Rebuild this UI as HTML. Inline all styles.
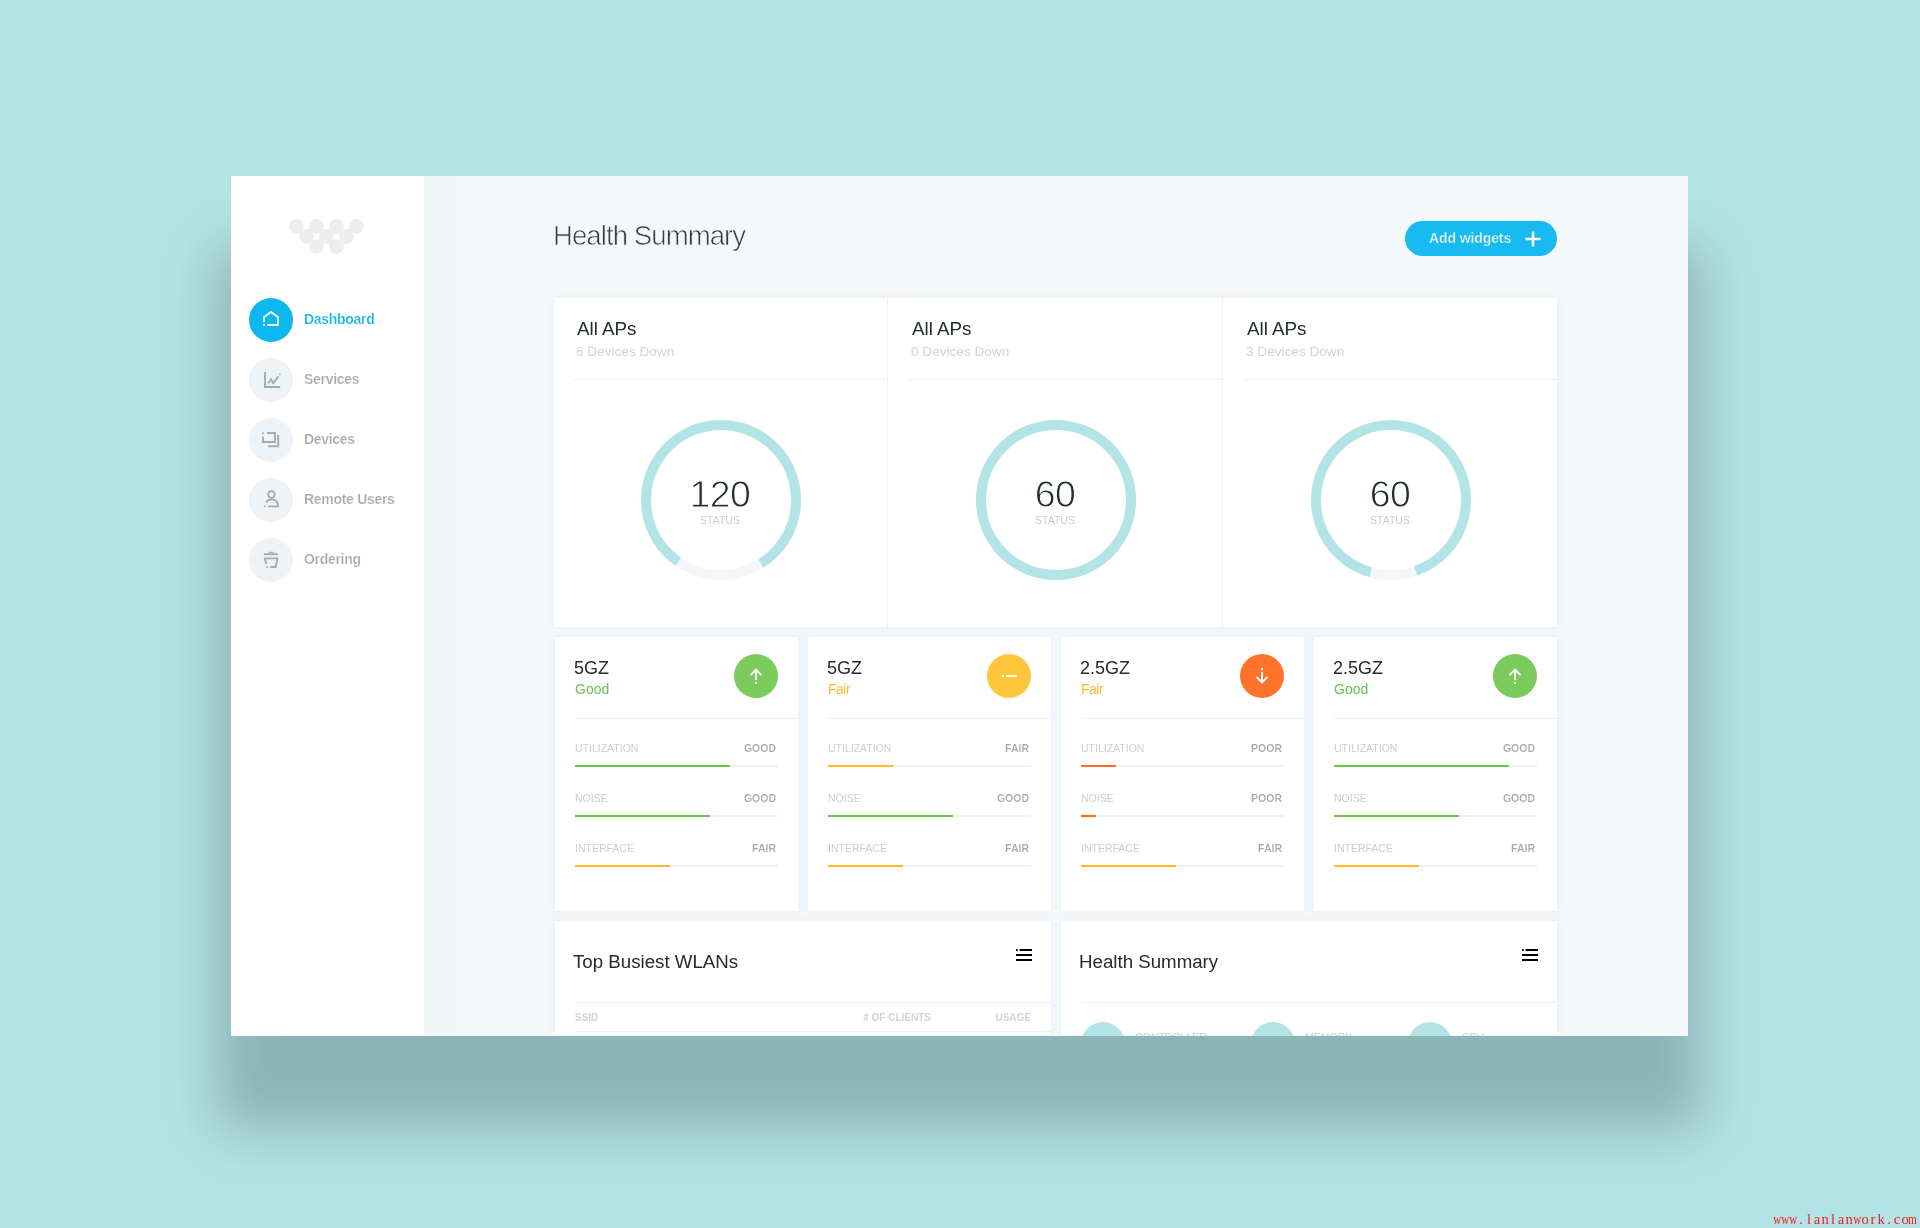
<!DOCTYPE html>
<html><head><meta charset="utf-8">
<style>
*{margin:0;padding:0;box-sizing:border-box}
html,body{width:1920px;height:1228px;overflow:hidden}
body{background:#b2e3e7;font-family:"Liberation Sans",sans-serif;position:relative}
.abs{position:absolute}
.navt,.t18,.sub,.num,.st,.lab,.val,div.abs{will-change:transform}
#shadow{position:absolute;left:217px;top:-751px;width:1485px;height:880px;box-shadow:0 1000px 50px 0 rgba(0,0,0,.21)}
#win{position:absolute;left:231px;top:176px;width:1457px;height:860px;background:#f4f8fb;overflow:hidden}
#side{position:absolute;left:0;top:0;width:193px;height:860px;background:#fff}
#sidegrad{position:absolute;left:193px;top:0;width:46px;height:860px;background:linear-gradient(90deg,#f0f5f8,#f4f8fb)}
.nav{position:absolute;left:18px;width:44px;height:44px;border-radius:50%;background:#edf3f6}
.nav.on{background:#0db8f1}
.navt{-webkit-text-stroke:0.2px #fff;position:absolute;left:73px;font-size:14px;font-weight:bold;color:#a9a9a9;letter-spacing:-0.3px;line-height:16px;white-space:nowrap}
.navt.on{color:#0fb4ec}
.card{position:absolute;background:#fff;box-shadow:0 0 7px rgba(140,180,200,.13)}
.t18{position:absolute;font-size:18px;color:#222b2e;line-height:20px;white-space:nowrap}
.sub{position:absolute;font-size:13.6px;color:#cdd4d7;line-height:16px;white-space:nowrap}
.hl{position:absolute;height:1px;background:#ebf0f3}
.vl{position:absolute;width:1px;background:#ebf0f3}
.num{position:absolute;-webkit-text-stroke:0.9px #fff;font-size:37.5px;color:#222b2e;line-height:36px;text-align:center;width:120px;white-space:nowrap}
.st{position:absolute;font-size:11px;color:#c5cdd1;line-height:12px;text-align:center;width:120px}
.lab{position:absolute;font-size:10.5px;color:#c7cfd3;line-height:12px;white-space:nowrap}
.val{-webkit-text-stroke:0.15px #fff;position:absolute;font-size:10.5px;color:#a4a8aa;line-height:12px;white-space:nowrap;font-weight:bold;text-align:right}
.bar{position:absolute;height:2px;background:#eef2f5;width:203px}
.bar i{position:absolute;left:0;top:0;height:2px;display:block}
.g{background:#6cc24a}.y{background:#fdb92e}.o{background:#f96d28}
.ic{position:absolute;width:44px;height:44px;border-radius:50%}
</style></head><body>
<div id="shadow"></div>
<div id="win">
 <div id="side"></div><div id="sidegrad"></div>
<svg class="abs" style="left:50px;top:34px" width="90" height="50" viewBox="0 0 90 50"><g fill="#ededed"><circle cx="15.4" cy="16.3" r="7.4"/><circle cx="35.4" cy="16.3" r="7.4"/><circle cx="55.5" cy="16.3" r="7.4"/><circle cx="75.5" cy="16.3" r="7.4"/><circle cx="25.4" cy="26.4" r="7.4"/><circle cx="45.4" cy="26.4" r="7.4"/><circle cx="65.5" cy="26.4" r="7.4"/><circle cx="35.4" cy="36.6" r="7.4"/><circle cx="55.5" cy="36.6" r="7.4"/></g></svg>
 <div class="nav on" style="top:122px"><svg width="44" height="44" viewBox="-22 -22 44 44"><path d="M-6.9 2.3V-3.1L0 -8.1L6.9 -3.1V5H-3.8" fill="none" stroke="#fff" stroke-width="1.8"/><rect x="-7.8" y="4.1" width="1.8" height="1.8" fill="#fff"/></svg></div>
 <div class="navt on" style="top:135px">Dashboard</div>
 <div class="nav" style="top:182px"><svg width="44" height="44" viewBox="-22 -22 44 44"><path d="M-6 -8V7H9.2" fill="none" stroke="#8fb0b9" stroke-width="1.9"/><path d="M-2.8 3.2L0 -0.8L2.2 3.2L7.4 -3.6" fill="none" stroke="#8fb0b9" stroke-width="1.8"/><rect x="8.1" y="-6.4" width="1.5" height="1.5" fill="#8fb0b9"/></svg></div>
 <div class="navt" style="top:195px">Services</div>
 <div class="nav" style="top:242px"><svg width="44" height="44" viewBox="-22 -22 44 44"><path d="M-8 -3.4V2H4V-7H-4" fill="none" stroke="#a9a9a9" stroke-width="1.9"/><rect x="-8.8" y="-7.8" width="1.7" height="1.7" fill="#a9a9a9"/><path d="M-3 6.2H7.2V-5" fill="none" stroke="#a9a9a9" stroke-width="1.9"/></svg></div>
 <div class="navt" style="top:255px">Devices</div>
 <div class="nav" style="top:302px"><svg width="44" height="44" viewBox="-22 -22 44 44"><circle cx="0.4" cy="-5.5" r="3.3" fill="none" stroke="#a9a9a9" stroke-width="1.8"/><path d="M-4.6 2.6C-3.4 0 -1.6 -0.6 0.4 -0.6C4.6 -0.6 7 2 7 6.3H-3" fill="none" stroke="#a9a9a9" stroke-width="1.8"/><rect x="-7" y="5.5" width="1.6" height="1.6" fill="#a9a9a9"/></svg></div>
 <div class="navt" style="top:315px">Remote Users</div>
 <div class="nav" style="top:362px"><svg width="44" height="44" viewBox="-22 -22 44 44"><path d="M-7 -5.8H7" stroke="#a9a9a9" stroke-width="1.8"/><path d="M-2 -7.6H2.6" stroke="#adadad" stroke-width="1.2"/><path d="M-4.6 4L-6.2 -1.6H6.4L4.6 7H-0.6" fill="none" stroke="#a9a9a9" stroke-width="1.9"/><rect x="-4.8" y="6.2" width="1.7" height="1.7" fill="#a9a9a9"/></svg></div>
 <div class="navt" style="top:375px">Ordering</div>
 <div class="abs" style="left:322px;top:44px;font-size:27.6px;letter-spacing:-0.95px;color:#323d42;line-height:32px;white-space:nowrap;-webkit-text-stroke:0.65px #f5f8fb">Health Summary</div>
 <div class="abs" style="left:1174px;top:45px;width:152px;height:35px;border-radius:18px;background:#17bbf1"></div>
 <div class="abs" style="left:1198px;top:54px;font-size:14px;font-weight:bold;color:#fff;line-height:16px;white-space:nowrap;letter-spacing:-0.1px;-webkit-text-stroke:0.35px #17bbf1">Add widgets</div>
 <svg class="abs" style="left:1293.5px;top:54.5px" width="16" height="16" viewBox="0 0 16 16"><path d="M8 0.5V15.5M0.5 8H15.5" stroke="#fff" stroke-width="2.6"/></svg>
 <div class="card" style="left:323px;top:122px;width:1003px;height:329px"></div>
 <div class="t18" style="left:345px;top:142.6px;font-size:18.8px;margin-left:0.6px">All APs</div>
 <div class="sub" style="left:345px;top:167.6px">6 Devices Down</div>
 <div class="hl" style="left:343px;top:203px;width:313px"></div>
 <div class="vl" style="left:656px;top:122px;height:329px"></div>
 <svg class="abs" style="left:405px;top:239px" width="170" height="170" viewBox="-85 -85 170 170"><circle r="75" fill="none" stroke="#f4f6fa" stroke-width="10"/><circle r="75" fill="none" stroke="#b2e3e7" stroke-width="10" stroke-dasharray="383.27 87.96" transform="rotate(124.7)"/></svg>
 <div class="num" style="left:429px;top:300px;letter-spacing:-0.6px">120</div>
 <div class="st" style="left:429px;top:338px;font-size:10.5px">STATUS</div>
 <div class="t18" style="left:680px;top:142.6px;font-size:18.8px;margin-left:0.6px">All APs</div>
 <div class="sub" style="left:680px;top:167.6px">0 Devices Down</div>
 <div class="hl" style="left:678px;top:203px;width:313px"></div>
 <div class="vl" style="left:991px;top:122px;height:329px"></div>
 <svg class="abs" style="left:740px;top:239px" width="170" height="170" viewBox="-85 -85 170 170"><circle r="75" fill="none" stroke="#f4f6fa" stroke-width="10"/><circle r="75" fill="none" stroke="#b2e3e7" stroke-width="10"/></svg>
 <div class="num" style="left:764px;top:300px;letter-spacing:-0.6px">60</div>
 <div class="st" style="left:764px;top:338px;font-size:10.5px">STATUS</div>
 <div class="t18" style="left:1015px;top:142.6px;font-size:18.8px;margin-left:0.6px">All APs</div>
 <div class="sub" style="left:1015px;top:167.6px">3 Devices Down</div>
 <div class="hl" style="left:1013px;top:203px;width:313px"></div>
 <svg class="abs" style="left:1075px;top:239px" width="170" height="170" viewBox="-85 -85 170 170"><circle r="75" fill="none" stroke="#f4f6fa" stroke-width="10"/><circle r="75" fill="none" stroke="#b2e3e7" stroke-width="10" stroke-dasharray="424.90 46.34" transform="rotate(105.7)"/></svg>
 <div class="num" style="left:1099px;top:300px;letter-spacing:-0.6px">60</div>
 <div class="st" style="left:1099px;top:338px;font-size:10.5px">STATUS</div>
 <div class="card" style="left:324px;top:461px;width:243px;height:274px"></div>
 <div class="t18" style="left:343px;top:482px">5GZ</div>
 <div class="abs" style="left:344px;top:505px;font-size:14px;line-height:16px;color:#6cc24a;margin-left:-0.5px">Good</div>
 <div class="ic" style="left:503px;top:478px;background:#7bca5c"><svg width="44" height="44" viewBox="-22 -22 44 44"><path d="M0 -6.5V3.9M-5.5 -0.9L0 -6.4L5.5 -0.9" fill="none" stroke="#fff" stroke-width="2"/><rect x="-1" y="5.9" width="2" height="2" fill="#fff"/></svg></div>
 <div class="hl" style="left:344px;top:542px;width:223px"></div>
 <div class="lab" style="left:344px;top:566px">UTILIZATION</div>
 <div class="val" style="left:445px;top:566px;width:100px">GOOD</div>
 <div class="bar" style="left:344px;top:589px"><i class="g" style="width:155px"></i></div>
 <div class="lab" style="left:344px;top:616px">NOISE</div>
 <div class="val" style="left:445px;top:616px;width:100px">GOOD</div>
 <div class="bar" style="left:344px;top:639px"><i class="g" style="width:135px"></i></div>
 <div class="lab" style="left:344px;top:666px">INTERFACE</div>
 <div class="val" style="left:445px;top:666px;width:100px">FAIR</div>
 <div class="bar" style="left:344px;top:689px"><i class="y" style="width:95px"></i></div>
 <div class="card" style="left:577px;top:461px;width:243px;height:274px"></div>
 <div class="t18" style="left:596px;top:482px">5GZ</div>
 <div class="abs" style="left:597px;top:505px;font-size:14px;line-height:16px;color:#fdb92e;letter-spacing:-0.5px;margin-left:-0.5px">Fair</div>
 <div class="ic" style="left:756px;top:478px;background:#ffc53b"><svg width="44" height="44" viewBox="-22 -22 44 44"><path d="M-3 0H7.9" stroke="#fff" stroke-width="1.9"/><rect x="-7.1" y="-0.95" width="2" height="1.9" fill="#fff"/></svg></div>
 <div class="hl" style="left:597px;top:542px;width:223px"></div>
 <div class="lab" style="left:597px;top:566px">UTILIZATION</div>
 <div class="val" style="left:698px;top:566px;width:100px">FAIR</div>
 <div class="bar" style="left:597px;top:589px"><i class="y" style="width:65px"></i></div>
 <div class="lab" style="left:597px;top:616px">NOISE</div>
 <div class="val" style="left:698px;top:616px;width:100px">GOOD</div>
 <div class="bar" style="left:597px;top:639px"><i class="g" style="width:125px"></i></div>
 <div class="lab" style="left:597px;top:666px">INTERFACE</div>
 <div class="val" style="left:698px;top:666px;width:100px">FAIR</div>
 <div class="bar" style="left:597px;top:689px"><i class="y" style="width:75px"></i></div>
 <div class="card" style="left:830px;top:461px;width:243px;height:274px"></div>
 <div class="t18" style="left:849px;top:482px">2.5GZ</div>
 <div class="abs" style="left:850px;top:505px;font-size:14px;line-height:16px;color:#fdb92e;letter-spacing:-0.5px;margin-left:-0.5px">Fair</div>
 <div class="ic" style="left:1009px;top:478px;background:#ff742a"><svg width="44" height="44" viewBox="-22 -22 44 44"><path d="M0 6.5V-3.9M-5.5 0.9L0 6.4L5.5 0.9" fill="none" stroke="#fff" stroke-width="2"/><rect x="-1" y="-7.9" width="2" height="2" fill="#fff"/></svg></div>
 <div class="hl" style="left:850px;top:542px;width:223px"></div>
 <div class="lab" style="left:850px;top:566px">UTILIZATION</div>
 <div class="val" style="left:951px;top:566px;width:100px">POOR</div>
 <div class="bar" style="left:850px;top:589px"><i class="o" style="width:35px"></i></div>
 <div class="lab" style="left:850px;top:616px">NOISE</div>
 <div class="val" style="left:951px;top:616px;width:100px">POOR</div>
 <div class="bar" style="left:850px;top:639px"><i class="o" style="width:15px"></i></div>
 <div class="lab" style="left:850px;top:666px">INTERFACE</div>
 <div class="val" style="left:951px;top:666px;width:100px">FAIR</div>
 <div class="bar" style="left:850px;top:689px"><i class="y" style="width:95px"></i></div>
 <div class="card" style="left:1083px;top:461px;width:243px;height:274px"></div>
 <div class="t18" style="left:1102px;top:482px">2.5GZ</div>
 <div class="abs" style="left:1103px;top:505px;font-size:14px;line-height:16px;color:#6cc24a;margin-left:-0.5px">Good</div>
 <div class="ic" style="left:1262px;top:478px;background:#7bca5c"><svg width="44" height="44" viewBox="-22 -22 44 44"><path d="M0 -6.5V3.9M-5.5 -0.9L0 -6.4L5.5 -0.9" fill="none" stroke="#fff" stroke-width="2"/><rect x="-1" y="5.9" width="2" height="2" fill="#fff"/></svg></div>
 <div class="hl" style="left:1103px;top:542px;width:223px"></div>
 <div class="lab" style="left:1103px;top:566px">UTILIZATION</div>
 <div class="val" style="left:1204px;top:566px;width:100px">GOOD</div>
 <div class="bar" style="left:1103px;top:589px"><i class="g" style="width:175px"></i></div>
 <div class="lab" style="left:1103px;top:616px">NOISE</div>
 <div class="val" style="left:1204px;top:616px;width:100px">GOOD</div>
 <div class="bar" style="left:1103px;top:639px"><i class="g" style="width:125px"></i></div>
 <div class="lab" style="left:1103px;top:666px">INTERFACE</div>
 <div class="val" style="left:1204px;top:666px;width:100px">FAIR</div>
 <div class="bar" style="left:1103px;top:689px"><i class="y" style="width:85px"></i></div>
 <div class="card" style="left:324px;top:745px;width:496px;height:114px"></div>
 <div class="t18" style="left:342px;top:776px;font-size:18.7px">Top Busiest WLANs</div>
 <svg class="abs" style="left:785px;top:773px" width="16" height="12" viewBox="0 0 16 12"><path d="M3.6 1H16M0 6H16M0 11H16" stroke="#000" stroke-width="1.8"/><rect x="0" y="0.2" width="1.8" height="1.8" fill="#000"/></svg>
 <div class="hl" style="left:344px;top:826px;width:476px"></div>
 <div class="card" style="left:830px;top:745px;width:496px;height:114px"></div>
 <div class="t18" style="left:848px;top:776px;font-size:18.7px">Health Summary</div>
 <svg class="abs" style="left:1291px;top:773px" width="16" height="12" viewBox="0 0 16 12"><path d="M3.6 1H16M0 6H16M0 11H16" stroke="#000" stroke-width="1.8"/><rect x="0" y="0.2" width="1.8" height="1.8" fill="#000"/></svg>
 <div class="hl" style="left:850px;top:826px;width:476px"></div>
 <div class="lab" style="left:344px;top:836px;font-weight:bold;font-size:10px;color:#cfd5d8">SSID</div>
 <div class="lab" style="left:600px;top:836px;font-weight:bold;font-size:10px;color:#cfd5d8;width:100px;text-align:right">#&nbsp;OF CLIENTS</div>
 <div class="lab" style="left:700px;top:836px;font-weight:bold;font-size:10px;color:#cfd5d8;width:100px;text-align:right">USAGE</div>
 <div class="hl" style="left:344px;top:855px;width:476px"></div>
 <div class="abs" style="left:850px;top:846px;width:44px;height:44px;border-radius:50%;background:#b2e3e7"></div>
 <div class="lab" style="left:904px;top:854.7px;font-size:10.5px">CONTROLLER</div>
 <div class="abs" style="left:1020px;top:846px;width:44px;height:44px;border-radius:50%;background:#b2e3e7"></div>
 <div class="lab" style="left:1074px;top:854.7px;font-size:10.5px">MEMORY</div>
 <div class="abs" style="left:1177px;top:846px;width:44px;height:44px;border-radius:50%;background:#b2e3e7"></div>
 <div class="lab" style="left:1231px;top:854.7px;font-size:10.5px">CPU</div>
</div>
<div class="abs" style="left:1773px;top:1210px;font-family:'Liberation Serif',serif;font-size:14.5px;line-height:18px;color:#f41a1a;white-space:nowrap;width:146px"><span style="display:inline-block;width:8px;text-align:center"><span style="display:inline-block;transform:scaleX(.76);margin:0 -2px">w</span></span><span style="display:inline-block;width:8px;text-align:center"><span style="display:inline-block;transform:scaleX(.76);margin:0 -2px">w</span></span><span style="display:inline-block;width:8px;text-align:center"><span style="display:inline-block;transform:scaleX(.76);margin:0 -2px">w</span></span><span style="display:inline-block;width:8px;text-align:center">.</span><span style="display:inline-block;width:8px;text-align:center">l</span><span style="display:inline-block;width:8px;text-align:center">a</span><span style="display:inline-block;width:8px;text-align:center">n</span><span style="display:inline-block;width:8px;text-align:center">l</span><span style="display:inline-block;width:8px;text-align:center">a</span><span style="display:inline-block;width:8px;text-align:center">n</span><span style="display:inline-block;width:8px;text-align:center"><span style="display:inline-block;transform:scaleX(.76);margin:0 -2px">w</span></span><span style="display:inline-block;width:8px;text-align:center">o</span><span style="display:inline-block;width:8px;text-align:center">r</span><span style="display:inline-block;width:8px;text-align:center">k</span><span style="display:inline-block;width:8px;text-align:center">.</span><span style="display:inline-block;width:8px;text-align:center">c</span><span style="display:inline-block;width:8px;text-align:center">o</span><span style="display:inline-block;width:8px;text-align:center"><span style="display:inline-block;transform:scaleX(.76);margin:0 -2px">m</span></span></div>
</body></html>
